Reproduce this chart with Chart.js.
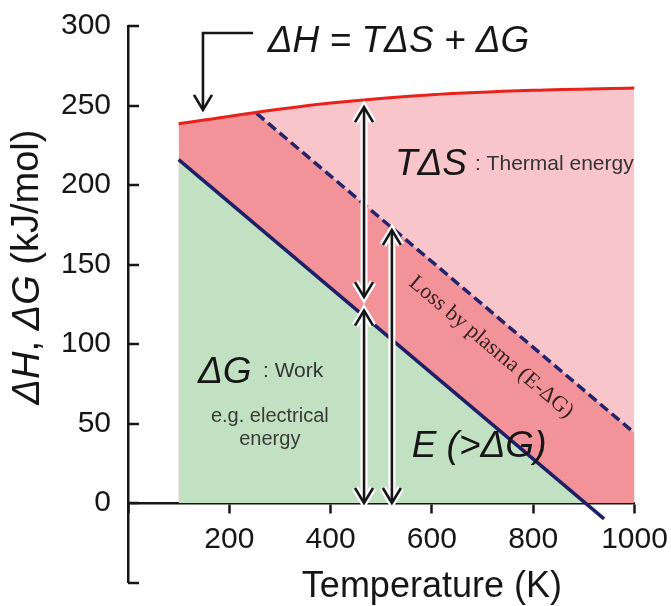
<!DOCTYPE html>
<html><head><meta charset="utf-8">
<script src="https://cdn.jsdelivr.net/npm/chart.js@4.4.1/dist/chart.umd.min.js"></script>
<style>html,body{margin:0;padding:0;background:#fff;}#wrap{width:671px;height:606px;}</style>
</head><body><div id="wrap"><canvas id="c" width="671" height="606"></canvas></div>
<script>
// ---- data ----
const dH_T = [100, 250, 400, 600, 800, 1000];
const dH_kJ = [238.5, 245.5, 251.5, 256.8, 259.6, 261];
const dG_T = [100, 940];
const dG_kJ = [216, -10];
const E_T = [254, 1000];
const E_kJ = [245, 44];
const work_T = [100, 903];
const work_kJ = [216, 0];
const loss_T = [100, 254, 1000];
const loss_kJ = [238.5, 245, 44];
const xTickLabels = [200, 400, 600, 800, 1000];
const yTickLabels = [0, 50, 100, 150, 200, 250, 300];

const pts = (xs, ys) => xs.map((v, i) => ({x: v, y: ys[i]}));
const FONT = '"Liberation Sans", Arial, sans-serif';
const INK = '#161616';

const annot = {
  id: 'annot',
  afterDatasetsDraw(chart) {
    const {ctx, scales: {x, y}} = chart;
    const X = v => x.getPixelForValue(v), Y = v => y.getPixelForValue(v);
    ctx.save();
    ctx.lineCap = 'butt'; ctx.lineJoin = 'miter';
    function txt(s, tx, ty, font, color, align) {
      ctx.font = font; ctx.fillStyle = color; ctx.textAlign = align || 'left'; ctx.textBaseline = 'alphabetic';
      ctx.fillText(s, X(tx), Y(ty));
    }
    txt('\u0394H = T\u0394S + \u0394G', 276, 283.6, 'italic 37px ' + FONT, INK);
    txt('T\u0394S', 527, 206.3, 'italic 37px ' + FONT, INK);
    txt(': Thermal energy', 685, 209.4, '21px ' + FONT, '#333');
    txt('\u0394G', 138, 75.5, 'italic 37px ' + FONT, INK);
    txt(': Work', 266.5, 79.2, '21px ' + FONT, '#333');
    txt('e.g. electrical', 280, 51, '20px ' + FONT, '#3a3a3a', 'center');
    txt('energy', 280, 36.5, '20px ' + FONT, '#3a3a3a', 'center');
    txt('E (>\u0394G)', 560, 29, 'italic 37px ' + FONT, INK);
    const ang = Math.atan2(Y(E_kJ[1]) - Y(E_kJ[0]), X(E_T[1]) - X(E_T[0]));
    ctx.save();
    ctx.translate(X(717), Y(98));
    ctx.rotate(ang);
    ctx.font = '22px "Liberation Serif", "Times New Roman", serif';
    ctx.fillStyle = '#3a2222'; ctx.textAlign = 'center'; ctx.textBaseline = 'middle';
    ctx.fillText('Loss by plasma (E-\u0394G)', 0, 0);
    ctx.restore();

    function chevron(px, py, dir) {
      ctx.beginPath();
      ctx.moveTo(px - 9, py - dir * 15);
      ctx.lineTo(px, py);
      ctx.lineTo(px + 9, py - dir * 15);
      ctx.stroke();
    }
    function vArrow(t, v1, v2, color, w) {
      const px = X(t), p1 = Y(v1), p2 = Y(v2);
      ctx.strokeStyle = color; ctx.lineWidth = w;
      ctx.beginPath(); ctx.moveTo(px, p1 - 1); ctx.lineTo(px, p2 + 1); ctx.stroke();
      chevron(px, p1, 1);
      chevron(px, p2, -1);
    }
    const arrows = [[466, 0, 121], [466, 129.5, 249], [521, 0, 171.7]];
    for (const a of arrows) vArrow(a[0], a[1], a[2], '#ffffff', 7);
    for (const a of arrows) vArrow(a[0], a[1], a[2], INK, 2.6);
    ctx.strokeStyle = INK; ctx.lineWidth = 2.6;
    ctx.beginPath();
    ctx.moveTo(X(247), Y(295.6)); ctx.lineTo(X(148), Y(295.6)); ctx.lineTo(X(148), Y(247.2) - 1);
    ctx.stroke();
    chevron(X(148), Y(247.2), 1);
    ctx.restore();
  },
  afterDraw(chart) {
    const {ctx, scales: {x, y}, chartArea} = chart;
    ctx.save();
    ctx.strokeStyle = INK; ctx.lineWidth = 2.5;
    for (const t of y.ticks) {
      const py = Math.round(y.getPixelForValue(t.value));
      ctx.beginPath(); ctx.moveTo(chartArea.left, py); ctx.lineTo(chartArea.left + 11, py); ctx.stroke();
    }
    ctx.fillStyle = INK; ctx.textBaseline = 'middle'; ctx.textAlign = 'center';
    ctx.font = '36px ' + FONT;
    ctx.fillText('Temperature (K)', x.getPixelForValue(600), 587);
    const parts = [['\u0394H', 'italic'], [', ', ''], ['\u0394G', 'italic'], [' (kJ/mol)', '']];
    let total = 0;
    for (const p of parts) { ctx.font = (p[1] ? p[1] + ' ' : '') + '38px ' + FONT; total += ctx.measureText(p[0]).width; }
    ctx.translate(28, 267);
    ctx.rotate(-Math.PI / 2);
    ctx.textAlign = 'left';
    let cx = -total / 2;
    for (const p of parts) {
      ctx.font = (p[1] ? p[1] + ' ' : '') + '38px ' + FONT;
      ctx.fillText(p[0], cx, 0);
      cx += ctx.measureText(p[0]).width;
    }
    ctx.restore();
  }
};

const fillDs = (label, data, color, order, extra) => Object.assign({
  label, data, fill: 'origin', backgroundColor: color, borderColor: 'transparent',
  borderWidth: 0, pointRadius: 0, order
}, extra || {});

new Chart(document.getElementById('c'), {
  type: 'line',
  data: {
    datasets: [
      {label: '\u0394H', data: pts(dH_T, dH_kJ), borderColor: '#e8211b', borderWidth: 3, pointRadius: 0,
       fill: false, cubicInterpolationMode: 'monotone', order: 0},
      {label: 'E', data: pts(E_T, E_kJ), borderColor: '#23246a', borderWidth: 3.5, borderDash: [10, 5],
       pointRadius: 0, fill: false, order: 1},
      {label: '\u0394G', data: pts(dG_T, dG_kJ), borderColor: '#1d2066', borderWidth: 3.5, pointRadius: 0,
       fill: false, order: 2},
      fillDs('TΔS area', pts(dH_T, dH_kJ), '#f8c5ca', 30, {cubicInterpolationMode: 'monotone'}),
      fillDs('loss area', pts(loss_T, loss_kJ), '#f2939a', 20),
      fillDs('work area', pts(work_T, work_kJ), '#c2e1c2', 10)
    ]
  },
  options: {
    responsive: false,
    animation: false,
    devicePixelRatio: 1,
    layout: {padding: {left: 0, right: 36.5, top: 26, bottom: 23.5}},
    plugins: {legend: {display: false}, tooltip: {enabled: false}},
    scales: {
      x: {
        type: 'linear', min: 0, max: 1000, position: {y: 0},
        afterFit: s => { s.paddingLeft = 0; s.paddingRight = 0; },
        ticks: {stepSize: 200, padding: 10, color: INK, font: {family: FONT, size: 30},
          callback: v => xTickLabels.includes(v) ? String(v) : ''},
        grid: {display: true, drawOnChartArea: false, drawTicks: true, tickLength: 9, tickColor: INK, tickWidth: 2.5},
        border: {display: true, color: INK, width: 2.5}
      },
      y: {
        type: 'linear', min: -50, max: 300,
        afterFit: s => { s.width = 128; s.paddingTop = 0; s.paddingBottom = 0; },
        ticks: {stepSize: 50, padding: 17, color: INK, font: {family: FONT, size: 30},
          callback: v => yTickLabels.includes(v) ? String(v) : ''},
        grid: {display: true, drawOnChartArea: false, drawTicks: false},
        border: {display: true, color: INK, width: 2.5}
      }
    }
  },
  plugins: [annot]
});
</script></body></html>
